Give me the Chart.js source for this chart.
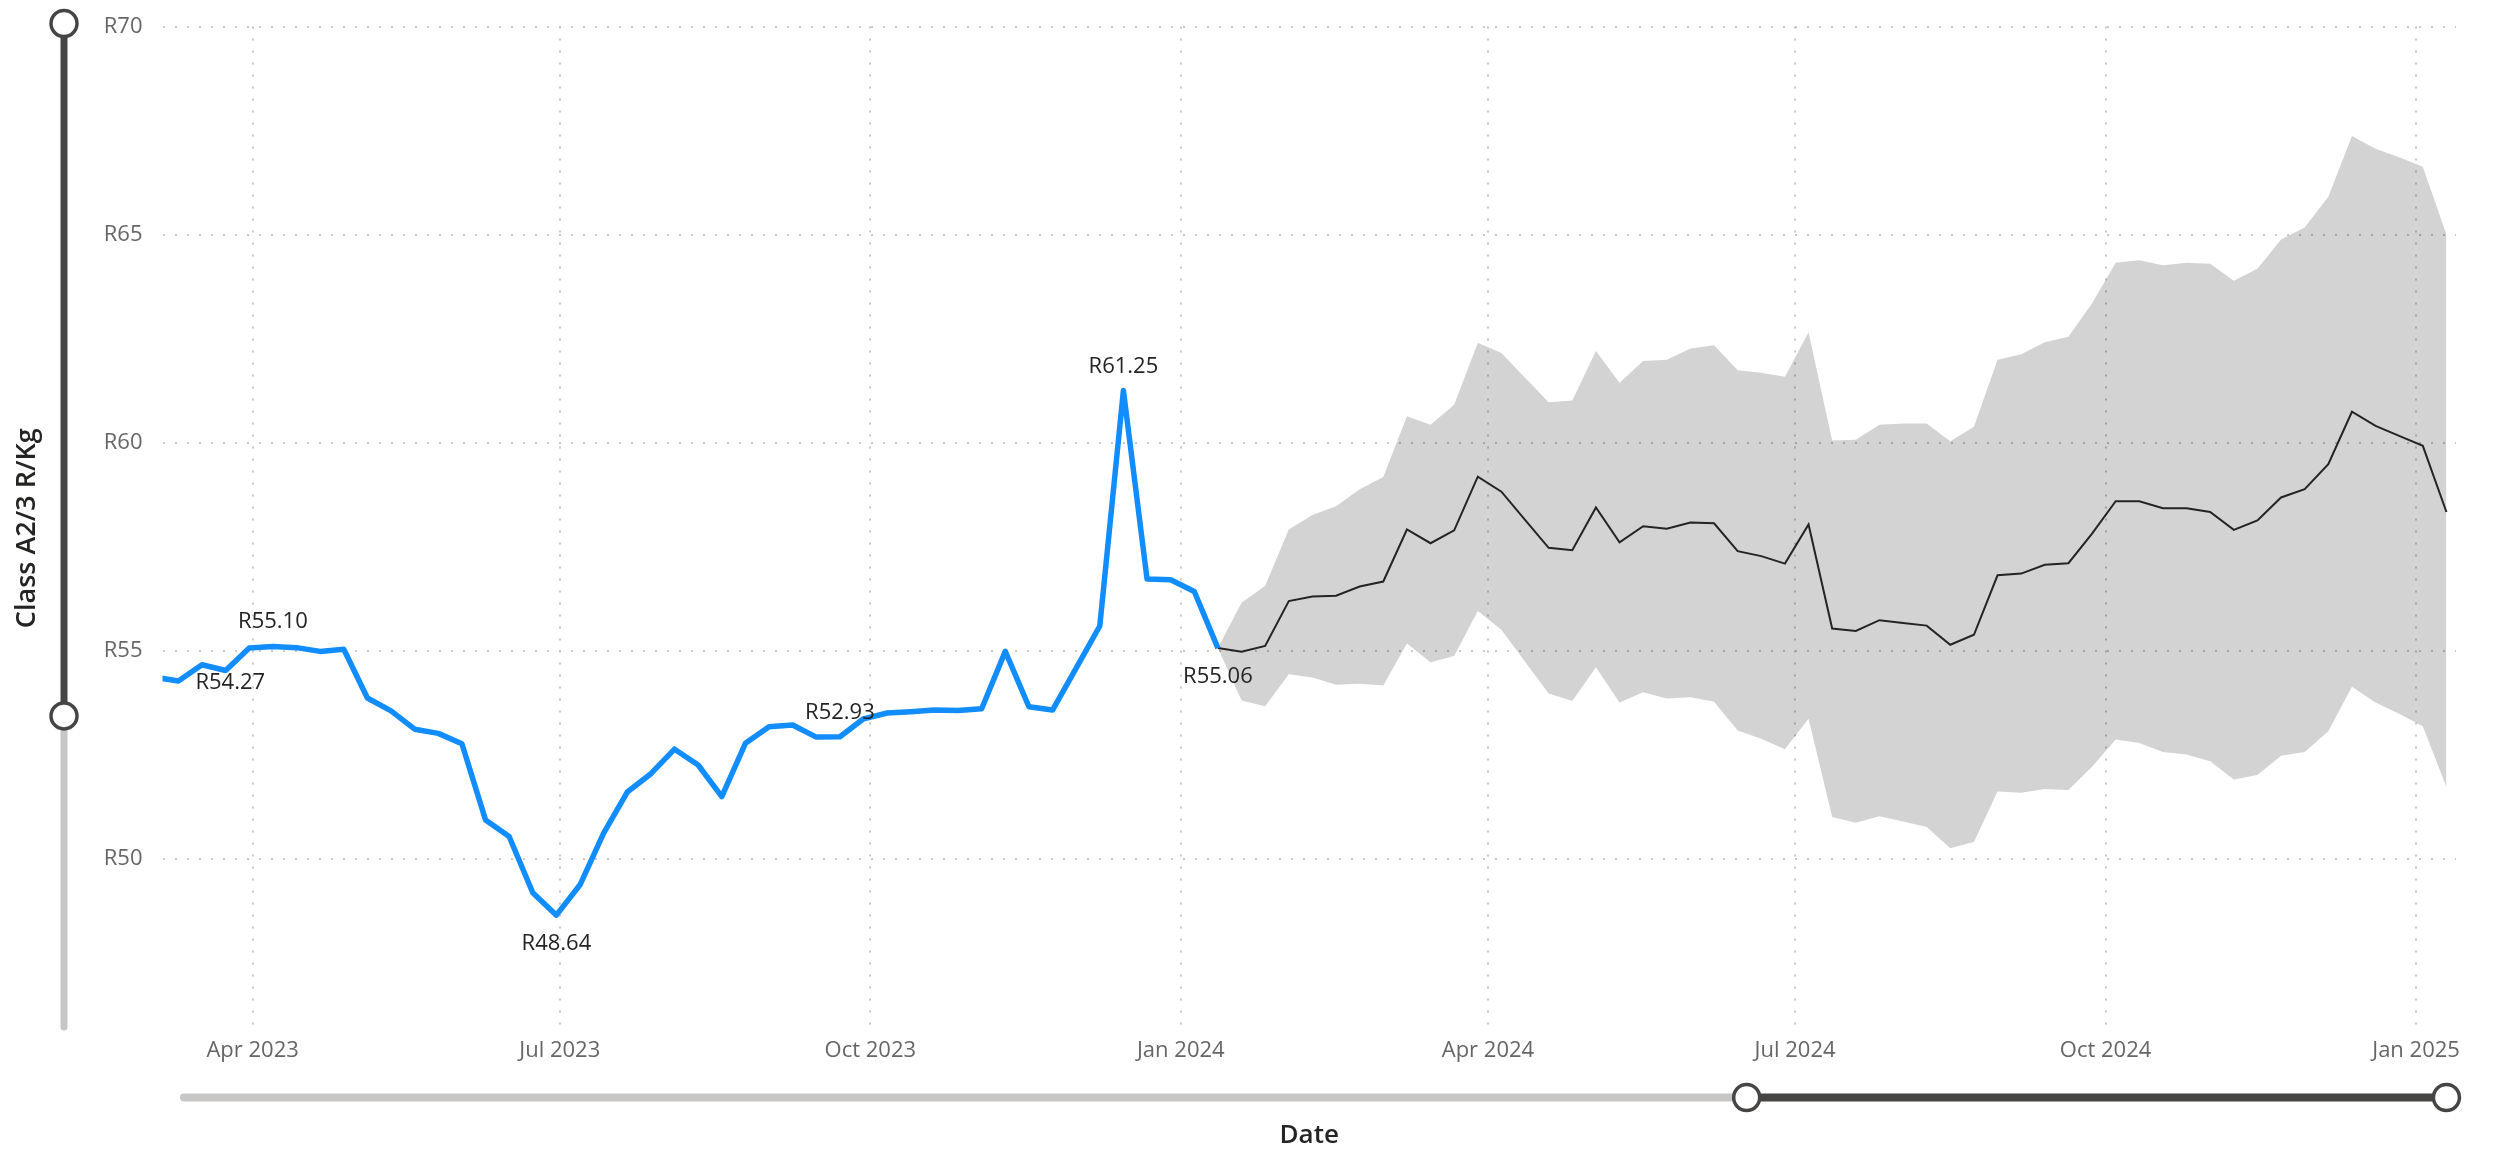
<!DOCTYPE html>
<html>
<head>
<meta charset="utf-8">
<script src="https://cdn.jsdelivr.net/npm/chart.js@4.4.1/dist/chart.umd.min.js"></script>
<style>
  html, body { margin: 0; padding: 0; background: #ffffff; }
  #wrap { width: 2493px; height: 1151px; position: relative; }
</style>
</head>
<body>
<div id="wrap"><canvas id="c"></canvas></div>
<script>
// ---------- DATA ----------
const histDates = [
  '2023-03-03','2023-03-10','2023-03-17','2023-03-24','2023-03-31','2023-04-07','2023-04-14','2023-04-21','2023-04-28',
  '2023-05-05','2023-05-12','2023-05-19','2023-05-26','2023-06-02','2023-06-09','2023-06-16','2023-06-23','2023-06-30',
  '2023-07-07','2023-07-14','2023-07-21','2023-07-28','2023-08-04','2023-08-11','2023-08-18','2023-08-25',
  '2023-09-01','2023-09-08','2023-09-15','2023-09-22','2023-09-29','2023-10-06','2023-10-13','2023-10-20','2023-10-27',
  '2023-11-03','2023-11-10','2023-11-17','2023-11-24','2023-12-01','2023-12-08','2023-12-15','2023-12-22','2023-12-29',
  '2024-01-05','2024-01-12'
];
const histValues = [
  54.36, 54.27, 54.66, 54.52, 55.06, 55.10, 55.07, 54.98, 55.03,
  53.86, 53.55, 53.11, 53.01, 52.76, 50.93, 50.53, 49.18, 48.64,
  49.37, 50.61, 51.60, 52.04, 52.63, 52.25, 51.49, 52.77,
  53.17, 53.21, 52.92, 52.93, 53.36, 53.50, 53.53, 53.57, 53.56,
  53.60, 54.98, 53.65, 53.57, 54.58, 55.59, 61.25, 56.72, 56.70,
  56.42, 55.06
];
const forecastDates = [
  '2024-01-12','2024-01-19','2024-01-26','2024-02-02','2024-02-09','2024-02-16','2024-02-23','2024-03-01','2024-03-08',
  '2024-03-15','2024-03-22','2024-03-29','2024-04-05','2024-04-12','2024-04-19','2024-04-26','2024-05-03','2024-05-10',
  '2024-05-17','2024-05-24','2024-05-31','2024-06-07','2024-06-14','2024-06-21','2024-06-28','2024-07-05','2024-07-12',
  '2024-07-19','2024-07-26','2024-08-02','2024-08-09','2024-08-16','2024-08-23','2024-08-30','2024-09-06','2024-09-13',
  '2024-09-20','2024-09-27','2024-10-04','2024-10-11','2024-10-18','2024-10-25','2024-11-01','2024-11-08','2024-11-15',
  '2024-11-22','2024-11-29','2024-12-06','2024-12-13','2024-12-20','2024-12-27','2025-01-03','2025-01-10'
];
const forecastValues = [
  55.06, 54.97, 55.11, 56.19, 56.30, 56.32, 56.54, 56.66, 57.91,
  57.58, 57.89, 59.18, 58.82, 58.14, 57.47, 57.41, 58.44, 57.60,
  57.99, 57.93, 58.08, 58.06, 57.39, 57.27, 57.09, 58.03, 55.53,
  55.47, 55.73, 55.66, 55.60, 55.14, 55.38, 56.81, 56.85, 57.06,
  57.10, 57.81, 58.59, 58.59, 58.42, 58.42, 58.33, 57.90, 58.13,
  58.68, 58.88, 59.48, 60.74, 60.40, 60.16, 59.92, 58.33
];
const forecastUpper = [
  55.06, 56.15, 56.56, 57.91, 58.26, 58.47, 58.88, 59.17, 60.63,
  60.43, 60.91, 62.40, 62.15, 61.56, 60.97, 61.01, 62.20, 61.44,
  61.96, 61.99, 62.26, 62.34, 61.74, 61.68, 61.58, 62.65, 60.05,
  60.07, 60.43, 60.46, 60.46, 60.03, 60.38, 61.99, 62.12, 62.41,
  62.54, 63.35, 64.32, 64.38, 64.26, 64.32, 64.30, 63.89, 64.18,
  64.88, 65.17, 65.91, 67.37, 67.06, 66.86, 66.63, 65.00
];
const forecastLower = [
  55.06, 53.80, 53.66, 54.43, 54.35, 54.18, 54.20, 54.16, 55.17,
  54.72, 54.87, 55.95, 55.50, 54.73, 53.97, 53.79, 54.60, 53.75,
  54.00, 53.85, 53.88, 53.77, 53.08, 52.88, 52.63, 53.36, 51.00,
  50.86, 51.02, 50.89, 50.76, 50.25, 50.40, 51.61, 51.58, 51.67,
  51.65, 52.21, 52.86, 52.78, 52.56, 52.50, 52.34, 51.90, 52.01,
  52.47, 52.56, 53.06, 54.13, 53.75, 53.48, 53.18, 51.72
];
const xTickDates  = ['2023-04-01','2023-07-01','2023-10-01','2024-01-01','2024-04-01','2024-07-01','2024-10-01','2025-01-01'];
const xTickLabels = ['Apr 2023','Jul 2023','Oct 2023','Jan 2024','Apr 2024','Jul 2024','Oct 2024','Jan 2025'];
const yTicks = [50, 55, 60, 65, 70];
const xRange = ['2023-03-05T07:00:00Z', '2025-01-12T20:00:00Z'];
const yRange = [45.88, 70];
const labelledPoints = [
  { index: 1,  pos: 'right' },
  { index: 5,  pos: 'above' },
  { index: 17, pos: 'below' },
  { index: 29, pos: 'above' },
  { index: 41, pos: 'above' },
  { index: 45, pos: 'below' }
];
const xSliderHandles = ['2024-06-16T16:00:00Z', '2025-01-10'];
const ySliderHandles = [70, 53.43];
const xTitle = 'Date';
const yTitle = 'Class A2/3 R/Kg';

// ---------- BUILD ----------
const ms = d => Date.parse(d);
const toPts = (dates, vals) => dates.map((d, i) => ({ x: ms(d), y: vals[i] }));
const xTickMs = xTickDates.map(ms);

const FONT = '"Segoe UI", "Open Sans", "Noto Sans", sans-serif';
const DARK = '#474543';
const LIGHT = '#c8c6c4';

const labelPlugin = {
  id: 'pointLabels',
  afterDatasetsDraw(chart) {
    const ctx = chart.ctx;
    const meta = chart.getDatasetMeta(0);
    ctx.save();
    ctx.font = '22px ' + FONT;
    ctx.fillStyle = '#252423';
    labelledPoints.forEach(l => {
      const el = meta.data[l.index];
      const txt = 'R' + histValues[l.index].toFixed(2);
      ctx.textBaseline = 'alphabetic';
      if (l.pos === 'above') {
        ctx.textAlign = 'center';
        ctx.fillText(txt, el.x, el.y - 18);
      } else if (l.pos === 'below') {
        ctx.textAlign = 'center';
        ctx.fillText(txt, el.x, el.y + 35);
      } else {
        ctx.textAlign = 'left';
        ctx.fillText(txt, el.x + 17, el.y + 8);
      }
    });
    ctx.restore();
  }
};

function handle(ctx, x, y) {
  ctx.beginPath();
  ctx.arc(x, y, 13, 0, Math.PI * 2);
  ctx.fillStyle = '#ffffff';
  ctx.fill();
  ctx.lineWidth = 3.5;
  ctx.strokeStyle = DARK;
  ctx.stroke();
}

const sliderPlugin = {
  id: 'zoomSliders',
  afterDraw(chart) {
    const { ctx, chartArea: a, scales: { x, y } } = chart;
    ctx.save();
    ctx.lineCap = 'round';
    // vertical slider (y axis)
    const vx = a.left - 98.5;
    const vTop = y.getPixelForValue(ySliderHandles[0]) - 3;
    const vBot = y.getPixelForValue(ySliderHandles[1]);
    ctx.lineWidth = 7;
    ctx.strokeStyle = LIGHT;
    ctx.beginPath(); ctx.moveTo(vx, vBot); ctx.lineTo(vx, a.bottom - 3); ctx.stroke();
    ctx.strokeStyle = DARK;
    ctx.beginPath(); ctx.moveTo(vx, vTop); ctx.lineTo(vx, vBot); ctx.stroke();
    handle(ctx, vx, vTop);
    handle(ctx, vx, vBot);
    // horizontal slider (x axis)
    const hy = a.bottom + 67.5;
    const h1 = x.getPixelForValue(ms(xSliderHandles[0]));
    const h2 = x.getPixelForValue(ms(xSliderHandles[1]));
    ctx.lineWidth = 8;
    ctx.strokeStyle = LIGHT;
    ctx.beginPath(); ctx.moveTo(a.left + 21.5, hy); ctx.lineTo(h1, hy); ctx.stroke();
    ctx.strokeStyle = DARK;
    ctx.beginPath(); ctx.moveTo(h1, hy); ctx.lineTo(h2, hy); ctx.stroke();
    handle(ctx, h1, hy);
    handle(ctx, h2, hy);
    ctx.restore();
  }
};

const gridCommon = { color: '#c8c8c8', lineWidth: 2, drawTicks: false };

new Chart(document.getElementById('c'), {
  type: 'line',
  data: {
    datasets: [
      {
        label: 'Actual',
        data: toPts(histDates, histValues),
        borderColor: '#118DFF',
        borderWidth: 5.5,
        borderJoinStyle: 'round',
        pointRadius: 0,
        tension: 0,
        fill: false,
        clip: 0
      },
      {
        label: 'Forecast',
        data: toPts(forecastDates, forecastValues),
        borderColor: '#252423',
        borderWidth: 2,
        pointRadius: 0,
        tension: 0,
        fill: false
      },
      {
        label: 'Upper bound',
        data: toPts(forecastDates, forecastUpper),
        borderColor: 'rgba(0,0,0,0)',
        borderWidth: 0,
        backgroundColor: 'rgba(0,0,0,0.173)',
        pointRadius: 0,
        tension: 0,
        fill: '+1'
      },
      {
        label: 'Lower bound',
        data: toPts(forecastDates, forecastLower),
        borderColor: 'rgba(0,0,0,0)',
        borderWidth: 0,
        pointRadius: 0,
        tension: 0,
        fill: false
      }
    ]
  },
  options: {
    responsive: true,
    maintainAspectRatio: false,
    animation: false,
    events: [],
    layout: { padding: { top: 26.5, right: 37, left: 0, bottom: 0 } },
    plugins: {
      legend: { display: false },
      tooltip: { enabled: false },
      title: { display: false }
    },
    scales: {
      x: {
        type: 'linear',
        min: ms(xRange[0]),
        max: ms(xRange[1]),
        afterBuildTicks: s => { s.ticks = xTickMs.map(v => ({ value: v })); },
        afterFit: s => { s.height = 121; },
        grid: gridCommon,
        border: { display: false, dash: [2, 10] },
        ticks: {
          autoSkip: false,
          maxRotation: 0,
          padding: 8,
          color: '#666666',
          font: { family: FONT, size: 22 },
          callback: v => { const i = xTickMs.indexOf(v); return i >= 0 ? xTickLabels[i] : ''; }
        },
        title: {
          display: true,
          text: xTitle,
          color: '#252423',
          font: { family: FONT, size: 26, weight: '600' },
          padding: { top: 0, bottom: 0 }
        }
      },
      y: {
        type: 'linear',
        min: yRange[0],
        max: yRange[1],
        afterBuildTicks: s => { s.ticks = yTicks.map(v => ({ value: v })); },
        afterFit: s => { s.width = 162.5; s.paddingTop = 0; s.paddingBottom = 0; },
        grid: gridCommon,
        border: { display: false, dash: [2, 10] },
        ticks: {
          padding: 20,
          color: '#666666',
          font: { family: FONT, size: 22 },
          callback: v => 'R' + v
        },
        title: {
          display: true,
          text: yTitle,
          color: '#252423',
          font: { family: FONT, size: 27, weight: '600' },
          padding: { top: 11, bottom: 0 }
        }
      }
    }
  },
  plugins: [labelPlugin, sliderPlugin]
});
</script>
</body>
</html>
